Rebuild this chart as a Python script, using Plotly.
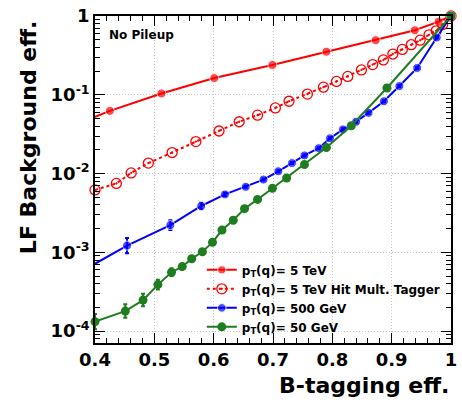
import plotly.graph_objects as go

# ---------------- data ----------------
x_5tev = [0.39, 0.425, 0.512, 0.601, 0.699, 0.790, 0.873, 0.939, 0.979, 1.0]
y_5tev = [0.049, 0.0625, 0.104, 0.163, 0.239, 0.352, 0.493, 0.659, 0.847, 1.0]

x_hit = [0.40, 0.436, 0.461, 0.490, 0.530, 0.570, 0.609, 0.643, 0.674, 0.704,
         0.727, 0.758, 0.785, 0.807, 0.826, 0.849, 0.868, 0.886, 0.902, 0.918,
         0.933, 0.948, 0.963, 0.975, 0.986, 1.0]
y_hit = [0.0062, 0.0075, 0.0102, 0.0136, 0.0185, 0.0255, 0.0347, 0.0455, 0.0552, 0.0682,
         0.0828, 0.102, 0.125, 0.148, 0.171, 0.207, 0.242, 0.277, 0.329, 0.377,
         0.432, 0.493, 0.577, 0.648, 0.78, 1.0]

x_500 = [0.39, 0.454, 0.527, 0.579, 0.619, 0.654, 0.684, 0.709, 0.732, 0.753, 0.777,
         0.796, 0.818, 0.840, 0.861, 0.887, 0.913, 0.943, 0.976, 1.0]
y_500 = [0.00065, 0.00122, 0.00222, 0.00388, 0.00544, 0.00679, 0.0084, 0.0107, 0.0136, 0.017, 0.021,
         0.0280, 0.0364, 0.0455, 0.059, 0.0828, 0.129, 0.219, 0.533, 1.0]
rel_err_500 = [0, 0.25, 0.15, 0.10, 0.05, 0.03, 0.03, 0.03, 0.03, 0.03, 0.03,
               0.03, 0.03, 0.03, 0.03, 0.03, 0.03, 0.03, 0.03, 0]

x_50 = [0.40, 0.451, 0.481, 0.506, 0.529, 0.547, 0.563, 0.581, 0.598, 0.614, 0.633,
        0.652, 0.674, 0.699, 0.723, 0.753, 0.790, 0.832, 0.892, 1.0]
y_50 = [0.000132, 0.00018, 0.000248, 0.00039, 0.00056, 0.00066, 0.00083, 0.00102, 0.00134, 0.00192, 0.00256,
        0.00359, 0.0047, 0.0065, 0.0088, 0.013, 0.0214, 0.0405, 0.122, 1.0]
rel_err_50 = [0.25, 0.22, 0.20, 0.15, 0.12, 0.08, 0.06, 0.04, 0.03, 0.03, 0.03,
              0.03, 0.03, 0.03, 0.03, 0.03, 0.03, 0.03, 0.03, 0]

x_ticks = [0.4, 0.5, 0.6, 0.7, 0.8, 0.9, 1.0]
x_ticktext = ["0.4", "0.5", "0.6", "0.7", "0.8", "0.9", "1"]
y_ticks = [1e-4, 1e-3, 1e-2, 1e-1, 1]
y_ticktext = ["10<sup>-4</sup>", "10<sup>-3</sup>", "10<sup>-2</sup>", "10<sup>-1</sup>", "1"]

names = ["p<sub>T</sub>(q)= 5 TeV", "p<sub>T</sub>(q)= 5 TeV Hit Mult. Tagger",
         "p<sub>T</sub>(q)= 500 GeV", "p<sub>T</sub>(q)= 50 GeV"]

# ---------------- style ----------------
FONT = "DejaVu Sans"
RED, BLUE, GREEN = "#ff0000", "#0000ff", "#1e7d1e"
MS = 9
GRID = "#c4c4c4"


def sizes(xs):
    return [0 if v < 0.4 else MS for v in xs]


fig = go.Figure()

fig.add_trace(go.Scatter(
    x=x_5tev, y=y_5tev, mode="lines+markers", name=names[0],
    line=dict(color=RED, width=2),
    marker=dict(color=RED, size=sizes(x_5tev), symbol="circle"),
    cliponaxis=False))

fig.add_trace(go.Scatter(
    x=x_hit, y=y_hit, mode="lines+markers", name=names[1],
    line=dict(color=RED, width=2, dash="3px,3px"),
    marker=dict(color=RED, size=10, symbol="circle-open-dot", line=dict(width=1.3, color=RED)),
    cliponaxis=False))

fig.add_trace(go.Scatter(
    x=x_500, y=y_500, mode="lines+markers", name=names[2],
    line=dict(color=BLUE, width=2),
    marker=dict(color=BLUE, size=sizes(x_500), symbol="circle"),
    error_y=dict(type="data", array=[v * r for v, r in zip(y_500, rel_err_500)],
                 arrayminus=[v * r / (1 + r) for v, r in zip(y_500, rel_err_500)],
                 color=BLUE, thickness=2, width=2),
    cliponaxis=False))

fig.add_trace(go.Scatter(
    x=x_50, y=y_50, mode="lines+markers", name=names[3],
    line=dict(color=GREEN, width=2),
    marker=dict(color=GREEN, size=MS, symbol="circle"),
    error_y=dict(type="data", array=[v * r for v, r in zip(y_50, rel_err_50)],
                 arrayminus=[v * r / (1 + r) for v, r in zip(y_50, rel_err_50)],
                 color=GREEN, thickness=2, width=2),
    cliponaxis=False))

y_minor = [m * 10 ** e for e in range(-5, 0) for m in range(2, 10)]
x_minor = [round(0.4 + 0.02 * i, 2) for i in range(31)]

tickfont = dict(family=FONT, size=18, color="black", weight="bold")

fig.update_layout(
    width=462, height=406,
    margin=dict(l=95, r=5, t=13, b=63),
    paper_bgcolor="white", plot_bgcolor="white",
    showlegend=True,
    legend=dict(x=0.300, y=0.268, xanchor="left", yanchor="top",
                bgcolor="rgba(0,0,0,0)", borderwidth=0,
                font=dict(family=FONT, size=12, color="black", weight="bold"),
                itemwidth=30, tracegroupgap=0),
    xaxis=dict(range=[0.4, 1.0], tickmode="array", tickvals=x_ticks, ticktext=x_ticktext,
               tickfont=tickfont, ticks="inside", ticklen=10, tickwidth=1, tickcolor="black",
               showline=True, linecolor="black", linewidth=1.5, mirror="ticks",
               showgrid=True, gridcolor=GRID, griddash="1px,2px", gridwidth=1,
               zeroline=False,
               minor=dict(tickmode="array", tickvals=x_minor, ticks="inside", ticklen=5,
                          tickcolor="black", showgrid=False)),
    yaxis=dict(type="log", range=[-4.15, 0.0], tickmode="array", tickvals=y_ticks,
               ticktext=y_ticktext, tickfont=tickfont,
               ticks="inside", ticklen=10, tickwidth=1, tickcolor="black",
               showline=True, linecolor="black", linewidth=1.5, mirror="ticks",
               showgrid=True, gridcolor=GRID, griddash="1px,2px", gridwidth=1,
               zeroline=False,
               minor=dict(tickmode="array", tickvals=y_minor, ticks="inside", ticklen=5,
                          tickcolor="black", showgrid=False)),
    annotations=[
        dict(text="LF Background eff.", xref="paper", yref="paper", x=-0.185, y=0.63,
             xanchor="center", yanchor="middle", textangle=-90, showarrow=False,
             font=dict(family=FONT, size=22, color="black", weight="bold")),
        dict(text="B-tagging eff.", xref="paper", yref="paper", x=1.0, y=-0.13,
             xanchor="right", yanchor="middle", showarrow=False,
             font=dict(family=FONT, size=22, color="black", weight="bold")),
        dict(text="No Pileup", xref="paper", yref="paper", x=0.033, y=0.942,
             xanchor="left", yanchor="middle", showarrow=False,
             font=dict(family=FONT, size=12, color="black", weight="bold")),
    ],
)

fig.write_html("out.html")
